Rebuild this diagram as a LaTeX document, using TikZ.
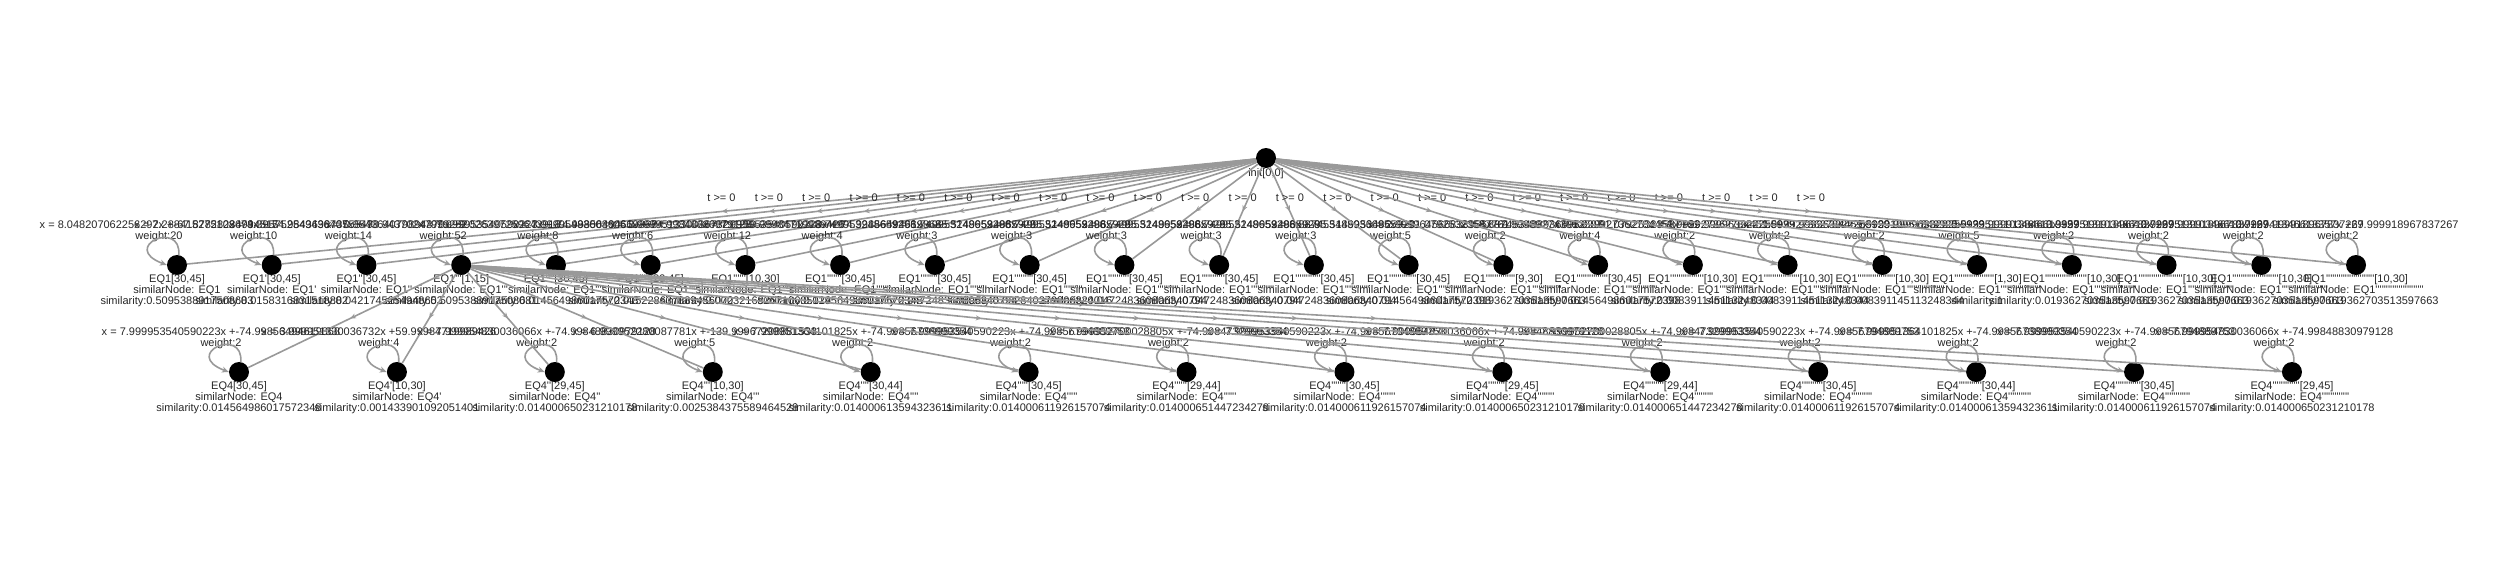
\documentclass[tikz,border=0pt]{standalone}
\usepackage{fontspec}
\setmainfont{Liberation Sans}[Ligatures=TeXOff]
\usetikzlibrary{arrows.meta,decorations.markings}
\newcount\prc
\newcommand\prm[1]{\prc=#1\relax\loop\ifnum\prc>0 '\advance\prc by -1 \repeat}
\tikzset{
  vtx/.style={circle,fill=black,minimum size=20pt,inner sep=0pt},
  txt/.style={font=\fontsize{11}{11}\selectfont,inner sep=0pt,align=center,text=black!85},
  edg/.style={draw=black!40,line width=1.6pt,postaction={decorate},
    decoration={markings,mark=at position 0.5 with {\arrow{Stealth[length=6pt,width=5pt]}}}},
  lp/.style={draw=black!40,line width=1.6pt,-{Stealth[length=7pt,width=6pt]}},
}
\begin{document}
\begin{tikzpicture}[x=1pt,y=-1pt]
\useasboundingbox (0,0) rectangle (2500,562);
\node[vtx] (r) at (1266,158) {};
\node[txt] (rl) at (1266,174) {init[0,0]};
% EQ1 row
\foreach \i/\w/\iv/\sm/\xl in {
 1/20/{30,45}/0.5095388917508683/{x = 8.048207062256292x +-67.87828234994517},
 2/10/{30,45}/0.0158316831518882/{x = 7.288415275108673x +-54.98436987355547},
 3/14/{30,45}/0.0421745254948653/{x = 4.395752549436407x +-98.94370247999252},
 4/52/{1,15}/0.5095388917508681/{x = 0.954364079894370x +9.026397259643918},
 5/8/{30,45}/0.014564986017572348/{x = 7.999953540590223x +-74.99856494619868},
 6/6/{29,45}/0.015228637889456070/{x = 7.999954830036066x +-74.99848830979128},
 7/12/{10,30}/0.0023216826710605129/{x = 3.999951330036732x +59.99984719989426},
 8/4/{30,45}/0.014564986017572348/{x = 7.999953540590223x +-74.99856494619868},
 9/3/{30,45}/0.047248360806340794/{x = 8.749953248659296x +-85.51499534865929},
 10/3/{30,45}/0.032840279806324016/{x = 8.749953248659296x +-85.51499534865929},
 11/3/{30,45}/0.047248360806340794/{x = 8.749953248659296x +-85.51499534865929},
 12/3/{30,45}/0.047248360806340794/{x = 8.749953248659296x +-85.51499534865929},
 13/3/{30,45}/0.047248360806340794/{x = 8.749953248659296x +-85.51499534865929},
 14/5/{30,45}/0.014564986017572398/{x = 8.887453488936695x +-91.07925323587761},
 15/2/{9,30}/0.019362703513597663/{x = 2.999964566833956x +9.999892743992507},
 16/4/{30,45}/0.014564986017572398/{x = 8.887453488936695x +-91.07925323587761},
 17/2/{10,30}/0.008391145113248344/{x = 1.999927362784459x +29.999963322255933},
 18/2/{10,30}/0.008391145113248344/{x = 1.999927362784459x +29.999963322255933},
 19/2/{10,30}/0.008391145113248344/{x = 1.999927362784459x +29.999963322255933},
 20/5/{1,30}/1/{x = 1.999910951849925x +29.999913846613357},
 21/2/{10,30}/0.019362703513597663/{x = 0.999951310346613x +29.999918967837267},
 22/2/{10,30}/0.019362703513597663/{x = 0.999951310346613x +29.999918967837267},
 23/2/{10,30}/0.019362703513597663/{x = 0.999951310346613x +29.999918967837267},
 24/2/{10,30}/0.019362703513597663/{x = 0.999941346613357x +29.999918967837267}} {
  \pgfmathsetmacro\xx{177+94.74*(\i-1)}
  \pgfmathtruncatemacro\np{\i-1}
  \node[vtx] (a\i) at (\xx,265) {};
  \node[txt] (l\i) at (\xx,291) {EQ1\prm{\np}[\iv]\\similarNode: EQ1\prm{\np}\\similarity:\sm};
  \node[txt] (w\i) at (\xx-18,231) {\xl\\weight:\w};
  \draw[edg] (r) -- node[txt,yshift=13.5pt] (t\i) {t >= 0} (a\i);
  \draw[lp] (a\i.80) .. controls +(3,-36) and +(-48,-18) .. (a\i.west);
}
% EQ4 row
\foreach \k/\w/\iv/\sm/\xl in {
 1/2/{30,45}/0.014564986017572348/{x = 7.999953540590223x +-74.99856494619868},
 2/4/{10,30}/0.001433901092051401/{x = 3.999951330036732x +59.99984719989426},
 3/2/{29,45}/0.014000650231210178/{x = 7.999954830036066x +-74.99848830979128},
 4/5/{10,30}/0.0025384375589464528/{x = 6.999952280087781x +-139.99967208881533},
 5/2/{30,44}/0.014000613594323611/{x = 7.999951364101825x +-74.99856738999354},
 6/2/{30,45}/0.014000611926157074/{x = 7.999953540590223x +-74.99856794889753},
 7/2/{29,44}/0.014000651447234278/{x = 7.999952700028805x +-74.99847329993354},
 8/2/{30,45}/0.014000611926157074/{x = 7.999953540590223x +-74.99856794889753},
 9/2/{29,45}/0.014000650231210178/{x = 7.999954830036066x +-74.99848830979128},
 10/2/{29,44}/0.014000651447234278/{x = 7.999952700028805x +-74.99847329993354},
 11/2/{30,45}/0.014000611926157074/{x = 7.999953540590223x +-74.99856794889753},
 12/2/{30,44}/0.014000613594323611/{x = 7.999951364101825x +-74.99856738999354},
 13/2/{30,45}/0.014000611926157074/{x = 7.999953540590223x +-74.99856794889753},
 14/2/{29,45}/0.014000650231210178/{x = 7.999954830036066x +-74.99848830979128}} {
  \pgfmathsetmacro\xx{239+157.92*(\k-1)}
  \pgfmathtruncatemacro\np{\k-1}
  \node[vtx] (b\k) at (\xx,372) {};
  \node[txt] (m\k) at (\xx,397.5) {EQ4\prm{\np}[\iv]\\similarNode: EQ4\prm{\np}\\similarity:\sm};
  \node[txt] (v\k) at (\xx-18,338.5) {\xl\\weight:\w};
  \draw[edg] (a4) -- (b\k);
  \draw[lp] (b\k.80) .. controls +(3,-36) and +(-48,-18) .. (b\k.west);
}
\end{tikzpicture}
\end{document}
